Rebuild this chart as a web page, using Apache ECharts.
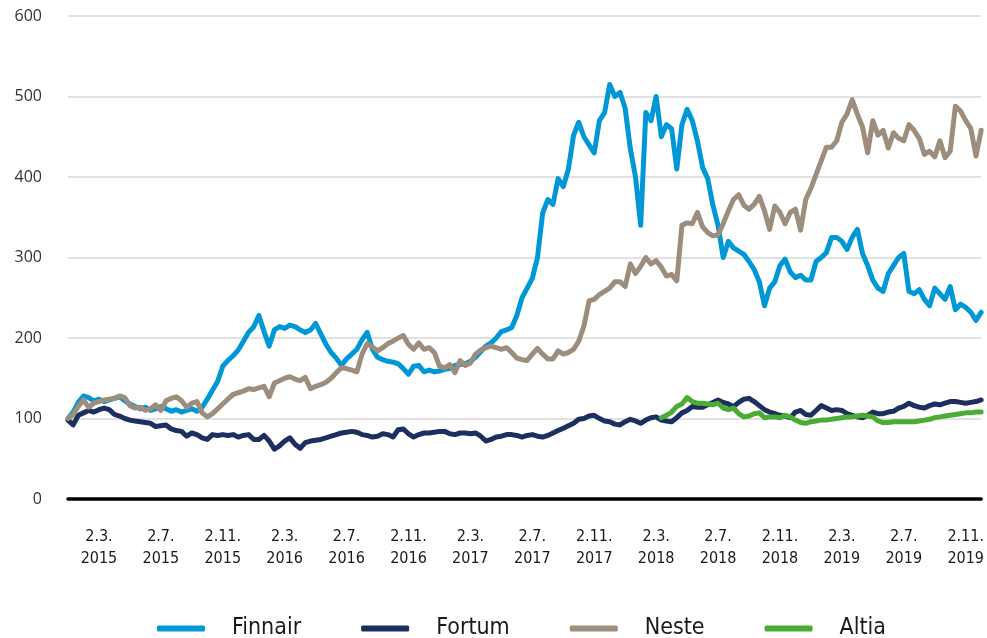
<!DOCTYPE html>
<html>
<head>
<meta charset="utf-8">
<script src="https://cdn.jsdelivr.net/npm/echarts@6/dist/echarts.min.js"></script>
<style>
html, body { margin: 0; padding: 0; background: #fff; }
#plot { width: 987px; height: 638px; }
</style>
</head>
<body>
<div id="plot"></div>
<script>
// dates: 2nd, 12th and 22nd of each month, 2.1.2015 .. 2.12.2019
var days = [2, 12, 22];
var dates = [];
for (var y = 2015; y <= 2019; y++) {
	for (var m = 1; m <= 12; m++) {
		for (var d = 0; d < days.length; d++) {
			if (dates.length < 178) dates.push(days[d] + '.' + m + '.' + y);
		}
	}
}
var labelMonths = [3, 7, 11];
var yTicks = [0, 100, 200, 300, 400, 500, 600];

var finnair = [100,108,120,128,126,122,124,121,123,125,127,122,118,115,112,114,110,112,115,112,
	109,111,108,110,112,109,114,124,135,146,165,172,178,185,196,207,214,228,208,190,
	210,214,212,216,214,210,207,210,218,205,192,182,175,166,174,180,186,198,207,186,
	176,173,171,170,168,162,155,165,166,158,160,158,159,161,162,166,167,168,171,176,
	183,190,194,200,208,210,213,228,250,262,274,300,355,372,366,398,388,410,452,468,
	450,440,430,470,480,515,500,505,485,435,400,340,480,470,500,450,465,460,410,465,
	484,470,445,412,398,365,340,300,320,312,308,304,295,285,270,240,262,270,290,298,
	282,275,278,272,272,295,300,306,325,325,320,310,325,335,305,290,272,262,258,280,
	290,300,305,258,255,260,248,240,262,255,248,264,235,242,238,232,222,232];

var fortum = [98,92,104,107,110,108,111,113,111,105,103,100,98,97,96,95,94,90,91,92,
	87,85,84,78,82,80,76,74,80,79,80,79,80,77,79,80,74,74,79,72,
	62,66,72,76,68,63,70,72,73,74,76,78,80,82,83,84,83,80,79,77,
	78,81,80,77,86,87,81,77,80,82,82,83,84,84,81,80,82,82,81,82,
	78,72,74,77,78,80,80,79,77,79,80,78,77,79,82,85,88,91,94,99,
	100,103,104,100,97,96,93,92,96,99,97,94,98,101,102,98,97,96,101,107,
	110,115,114,114,117,120,123,120,118,115,120,124,125,121,116,111,108,106,104,103,
	101,108,110,105,104,110,116,113,110,111,110,106,104,102,101,104,108,106,106,108,
	109,113,115,119,116,114,113,116,118,117,119,121,121,120,119,120,121,123];

var neste = [100,105,115,123,114,119,121,123,124,125,128,126,116,113,114,110,112,117,110,122,
	125,127,122,114,119,121,107,102,106,112,118,124,130,132,134,137,136,138,140,127,
	144,147,150,152,149,147,151,137,140,142,145,150,157,163,162,160,158,180,193,189,
	184,188,193,196,200,203,192,186,194,186,188,182,165,163,167,157,172,166,169,180,
	185,188,190,188,186,188,182,175,173,172,180,187,180,174,174,184,180,182,186,196,
	215,246,248,254,258,262,270,270,264,292,280,289,300,292,296,288,277,279,271,340,
	343,342,356,338,331,327,328,342,358,372,378,365,360,366,376,358,335,364,356,342,
	356,360,334,372,386,403,420,437,437,445,468,478,496,478,462,430,470,452,458,436,
	455,448,445,465,458,448,428,432,425,445,424,432,488,482,470,460,426,458];

// Altia listed from 12.3.2018 onwards
var altiaStart = 115;
var altiaValues = [101,104,108,115,118,126,121,119,119,118,117,119,113,111,113,106,102,103,106,107,
	101,102,102,101,104,102,98,95,94,96,97,98,98,99,100,101,102,102,103,104,
	103,102,97,95,95,96,96,96,96,96,97,98,99,101,102,103,104,105,106,107,
	107,108,108];

var altia = [];
for (var i = 0; i < dates.length; i++) {
	altia.push(i < altiaStart ? null : altiaValues[i - altiaStart]);
}

var names = ['Finnair', 'Fortum', 'Neste', 'Altia'];
var colors = ['#0097d7', '#1c2f5e', '#9c8d7d', '#4bac34'];
var seriesData = [finnair, fortum, neste, altia];

var narrow = "'Liberation Sans Narrow', 'DejaVu Sans Condensed', sans-serif";

var series = [];
for (var s = 0; s < names.length; s++) {
	series.push({
		name: names[s],
		type: 'line',
		data: seriesData[s],
		showSymbol: false,
		symbol: 'none',
		silent: true,
		lineStyle: { width: 5, color: colors[s], join: 'round', cap: 'round' },
		itemStyle: { color: colors[s] }
	});
}

var option = {
	animation: false,
	backgroundColor: '#fff',
	grid: { left: 68, right: 2, top: 16, bottom: 139 },
	legend: {
		data: names,
		left: 152,
		top: 612,
		icon: 'roundRect',
		itemWidth: 48,
		itemHeight: 6,
		itemGap: 60,
		textStyle: {
			fontFamily: narrow,
			fontSize: 23,
			color: '#1a1a1a',
			padding: [0, 0, 0, 22]
		}
	},
	xAxis: {
		type: 'category',
		data: dates,
		boundaryGap: false,
		axisLine: { show: true, lineStyle: { color: '#000', width: 3.5 } },
		axisTick: { show: false },
		splitLine: { show: false },
		axisLabel: {
			interval: function (index, value) {
				var p = value.split('.');
				return p[0] === '2' && labelMonths.indexOf(+p[1]) >= 0;
			},
			formatter: function (value) {
				var p = value.split('.');
				return p[0] + '.' + p[1] + '.\n' + p[2];
			},
			margin: 27,
			fontFamily: narrow,
			fontSize: 16,
			lineHeight: 22,
			color: '#1a1a1a'
		}
	},
	yAxis: {
		type: 'value',
		min: yTicks[0],
		max: yTicks[yTicks.length - 1],
		interval: 100,
		axisLine: { show: false },
		axisTick: { show: false },
		splitLine: { lineStyle: { color: '#d9d9d9', width: 1.5 } },
		axisLabel: {
			margin: 26,
			fontFamily: "'Open Sans', sans-serif",
			fontSize: 16,
			color: '#333'
		}
	},
	series: series
};

var myChart = echarts.init(document.getElementById('plot'));
myChart.setOption(option);
</script>
</body>
</html>
